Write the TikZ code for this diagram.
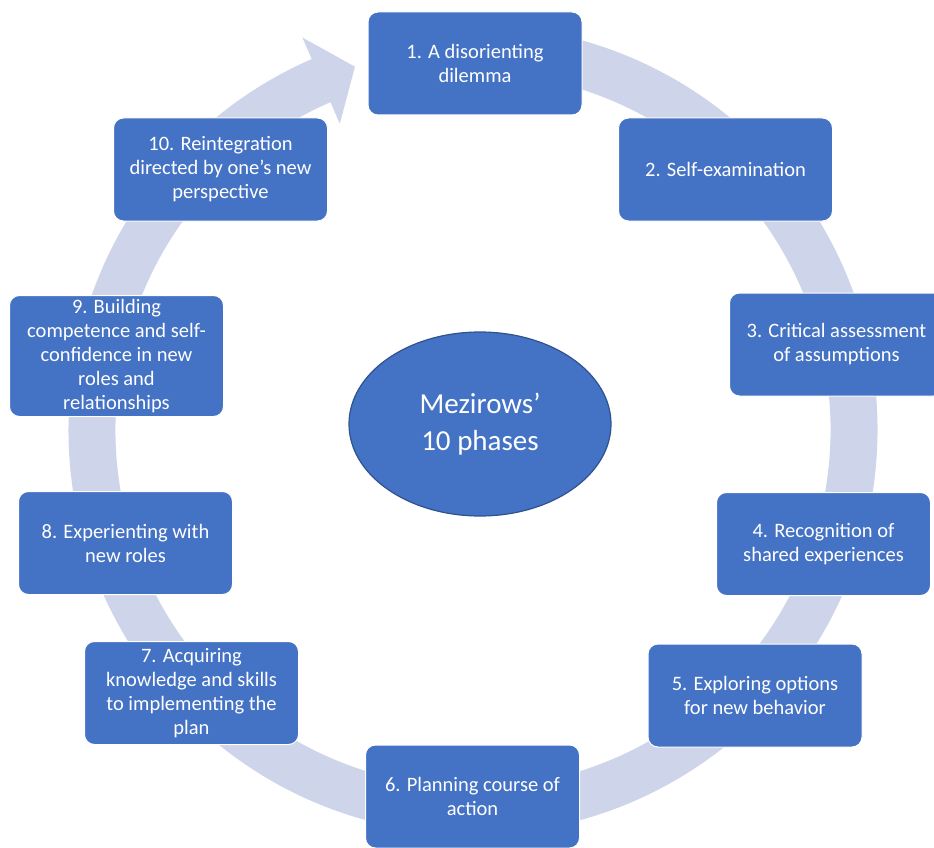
\documentclass[tikz,border=0pt]{standalone}
\usepackage{fontspec}
\setmainfont{Carlito}
\usepackage{xcolor}
\usepackage{tikz}
\usetikzlibrary{shapes.geometric}
\definecolor{phaseblue}{RGB}{68, 114, 196}
\definecolor{edgeblue}{RGB}{47, 82, 143}
\definecolor{bandgray}{RGB}{206, 212, 234}

\begin{document}
\begin{tikzpicture}[x=1pt, y=1pt,
    phase/.style={rectangle, draw=white, line width=1pt, fill=phaseblue, text=white, align=center, rounded corners=10pt, minimum width=214pt, minimum height=103pt, inner sep=0pt, font=\fontsize{20.5}{24}\selectfont},
    core/.style={ellipse, draw=edgeblue, line width=1.2pt, fill=phaseblue, text=white, align=center, minimum width=262pt, minimum height=184pt, inner sep=0pt, font=\fontsize{29}{37}\selectfont},
    arcband/.style={fill=bandgray}]

    \useasboundingbox (0,0) rectangle (934,-848);
    \coordinate (centre) at (473,-430);
    \fill [arcband, shift={(centre)}] (85:404.5) arc [start angle=85, end angle=-246.5, radius=404.5] -- (-246.5:428) -- (-252:382) -- (-246.5:334) -- (-246.5:357.5) arc [start angle=-246.5, end angle=85, radius=357.5] -- cycle;

    \node [phase] (p1) at (475,-63.5) {1. A disorienting\\dilemma};
    \node [phase] (p2) at (725.5,-169.5) {2. Self-examination};
    \node [phase] (p3) at (836.5,-344.5) {3. Critical assessment\\of assumptions};
    \node [phase] (p4) at (823.5,-544) {4. Recognition of\\shared experiences};
    \node [phase] (p5) at (755,-695.5) {5. Exploring options\\for new behavior};
    \node [phase] (p6) at (472.5,-796.5) {6. Planning course of\\action};
    \node [phase] (p7) at (191.5,-693) {7. Acquiring\\knowledge and skills\\to implementing the\\plan};
    \node [phase] (p8) at (125.5,-543) {8. Experienting with\\new roles};
    \node [phase, minimum height=121pt] (p9) at (116.5,-356) {9. Building\\competence and self-\\confidence in new\\roles and\\relationships};
    \node [phase] (p10) at (220.5,-169.5) {10. Reintegration\\directed by one's new\\perspective};

    \node [core] (mezirow) at (480,-424) {Mezirows’\\10 phases};
\end{tikzpicture}
\end{document}
